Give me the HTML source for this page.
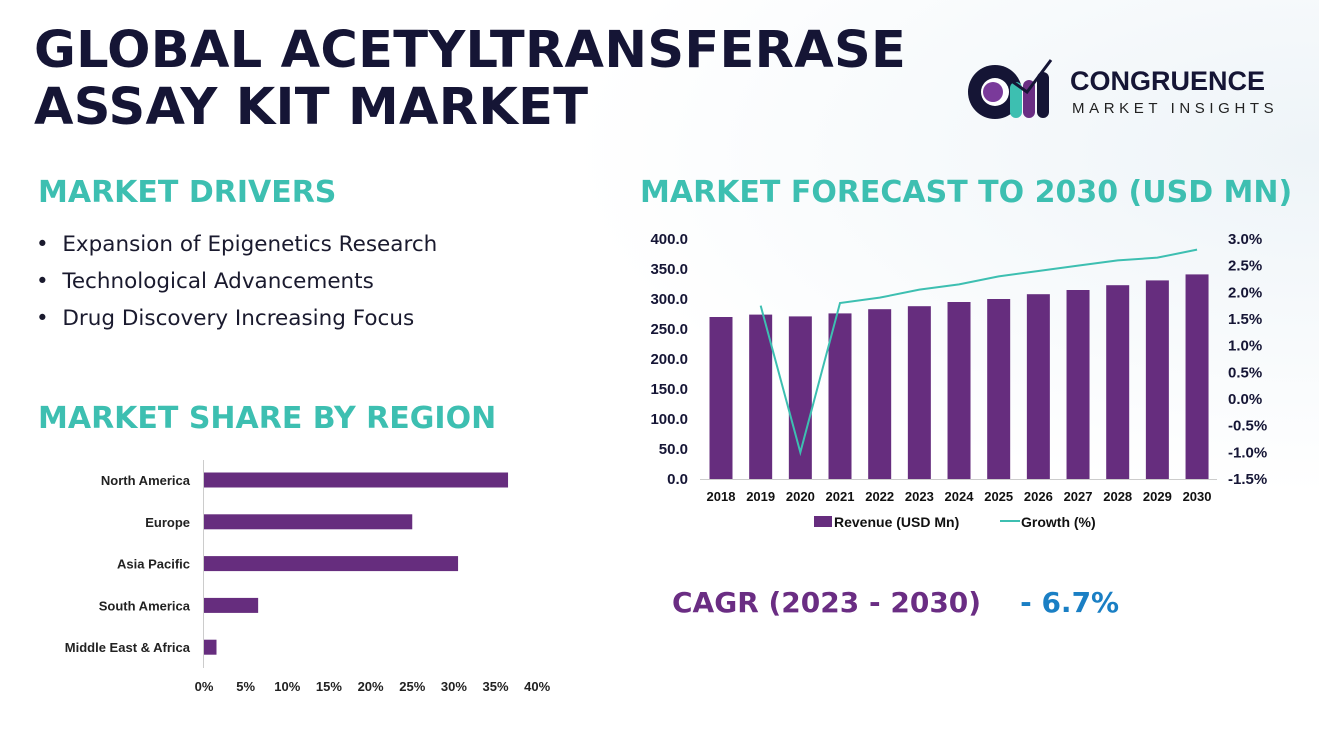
<!DOCTYPE html>
<html><head><meta charset="utf-8"><style>
body{margin:0;width:1319px;height:756px;overflow:hidden;background:#fff;font-family:"Liberation Sans",sans-serif;position:relative}
.abs{position:absolute}
h1{position:absolute;left:34px;top:22px;margin:0;font-family:"DejaVu Sans",sans-serif;font-size:51px;line-height:57px;font-weight:bold;color:#151535;letter-spacing:0.3px}
.sec{position:absolute;font-family:"DejaVu Sans",sans-serif;font-size:30px;font-weight:bold;color:#3dbfb1;margin:0}
ul{position:absolute;left:36px;top:232px;margin:0;padding:0;list-style:none;font-family:"DejaVu Sans",sans-serif;font-size:21.5px;color:#1a1a2e}
ul li{height:37px}
</style></head><body>
<div class="abs" style="left:0;top:0;width:1319px;height:756px;background:radial-gradient(ellipse at 100% 20%,#eef4f8 0,#fff 40%),#fff"></div>
<h1>GLOBAL ACETYLTRANSFERASE<br>ASSAY KIT MARKET</h1>
<div class="abs" style="left:965px;top:52px;width:320px;height:70px">
 <svg width="95" height="70" class="abs" style="left:0;top:0">
  <circle cx="30" cy="40" r="27" fill="#151535"/><circle cx="30" cy="40" r="14" fill="#fff"/><circle cx="28" cy="40" r="10" fill="#7a3a9a"/>
  <rect x="45" y="30" width="12" height="36" rx="6" fill="#3dbfb1"/><rect x="58" y="28" width="12" height="38" rx="6" fill="#6a2d83"/><rect x="72" y="20" width="12" height="46" rx="6" fill="#151535"/>
  <path d="M48 30 L62 40 L86 8" stroke="#151535" stroke-width="3" fill="none"/>
 </svg>
 <div class="abs" style="left:105px;top:14px;font-size:27px;font-weight:900;color:#151535">CONGRUENCE</div>
 <div class="abs" style="left:107px;top:48px;font-size:15px;letter-spacing:4.6px;color:#222">MARKET INSIGHTS</div>
</div>
<h2 class="sec" style="left:38px;top:175px">MARKET DRIVERS</h2>
<ul>
<li>•&nbsp; Expansion of Epigenetics Research</li>
<li>•&nbsp; Technological Advancements</li>
<li>•&nbsp; Drug Discovery Increasing Focus</li>
</ul>
<h2 class="sec" style="left:38px;top:401px">MARKET SHARE BY REGION</h2>
<h2 class="sec" style="left:640px;top:175px">MARKET FORECAST TO 2030 (USD MN)</h2>
<div class="abs" style="left:672px;top:586px;font-family:'DejaVu Sans',sans-serif;font-size:28px;font-weight:bold;color:#6a2d83">CAGR (2023 - 2030)&nbsp;&nbsp;&nbsp; <span style="color:#1a7fc4">- 6.7%</span></div>
<svg id="fc" class="abs" style="left:0;top:0" width="1319" height="756"></svg>
<svg id="rg" class="abs" style="left:0;top:0;pointer-events:none" width="1319" height="756"></svg>
<script>
const years=["2018","2019","2020","2021","2022","2023","2024","2025","2026","2027","2028","2029","2030"];
const revenue=[270,274,271,276,283,288,295,300,308,315,323,331,341];
const growth=[null,1.75,-1.0,1.8,1.9,2.05,2.15,2.3,2.4,2.5,2.6,2.65,2.8];
const leftTicks=[0,50,100,150,200,250,300,350,400];
const rightTicks=[-1.5,-1,-0.5,0,0.5,1,1.5,2,2.5,3];
const regions=["North America","Europe","Asia Pacific","South America","Middle East & Africa"];
const shares=[36.5,25,30.5,6.5,1.5];
const shareTicks=[0,5,10,15,20,25,30,35,40];
const NS="http://www.w3.org/2000/svg";
function mk(p,t,a){const e=document.createElementNS(NS,t);for(const k in a)e.setAttribute(k,a[k]);p.appendChild(e);return e;}
const fc=document.getElementById('fc');
const yL=v=>479-v*0.6, yR=v=>479-(v+1.5)*240/4.5, xC=i=>721+i*39.67;
mk(fc,'line',{x1:700,x2:1217,y1:479.5,y2:479.5,stroke:'#ccc'});
leftTicks.forEach(v=>{const t=mk(fc,'text',{x:688,y:yL(v)+5,'text-anchor':'end','font-size':15,'font-weight':'bold',fill:'#151535'});t.textContent=v.toFixed(1);
});
rightTicks.forEach(v=>{const t=mk(fc,'text',{x:1228,y:yR(v)+5,'font-size':15,'font-weight':'bold',fill:'#151535'});t.textContent=v.toFixed(1)+'%';
});
years.forEach((y,i)=>{const b=mk(fc,'rect',{x:xC(i)-11.5,y:yL(revenue[i]),width:23,height:revenue[i]*0.6,fill:'#662d7e'});

const t=mk(fc,'text',{x:xC(i),y:501,'text-anchor':'middle','font-size':13,'font-weight':'bold',fill:'#111'});t.textContent=y;
});
let pts=[];growth.forEach((g,i)=>{if(g!==null)pts.push(xC(i)+','+yR(g));});
const ln=mk(fc,'polyline',{points:pts.join(' '),fill:'none',stroke:'#3dbfb1','stroke-width':2});

const lg=mk(fc,'g',{});
mk(lg,'rect',{x:814,y:516,width:18,height:11,fill:'#662d7e'});
let t1=mk(lg,'text',{x:834,y:527,'font-size':14,'font-weight':'bold',fill:'#111'});t1.textContent='Revenue (USD Mn)';
mk(lg,'line',{x1:1000,x2:1020,y1:521,y2:521,stroke:'#3dbfb1','stroke-width':2});
let t2=mk(lg,'text',{x:1021,y:527,'font-size':14,'font-weight':'bold',fill:'#111'});t2.textContent='Growth (%)';
const rg=document.getElementById('rg');
const xS=v=>204+v*8.33, rowY=i=>480+i*41.8;
mk(rg,'line',{x1:203.5,x2:203.5,y1:460,y2:668,stroke:'#ccc'});
regions.forEach((r,i)=>{const b=mk(rg,'rect',{x:204,y:rowY(i)-7.5,width:shares[i]*8.33,height:15,fill:'#662d7e'});

const t=mk(rg,'text',{x:190,y:rowY(i)+5,'text-anchor':'end','font-size':13,'font-weight':'bold',fill:'#222'});t.textContent=r;
});
shareTicks.forEach(v=>{const t=mk(rg,'text',{x:xS(v),y:691,'text-anchor':'middle','font-size':13,'font-weight':'bold',fill:'#222'});t.textContent=v+'%';
});
</script>
</body></html>
